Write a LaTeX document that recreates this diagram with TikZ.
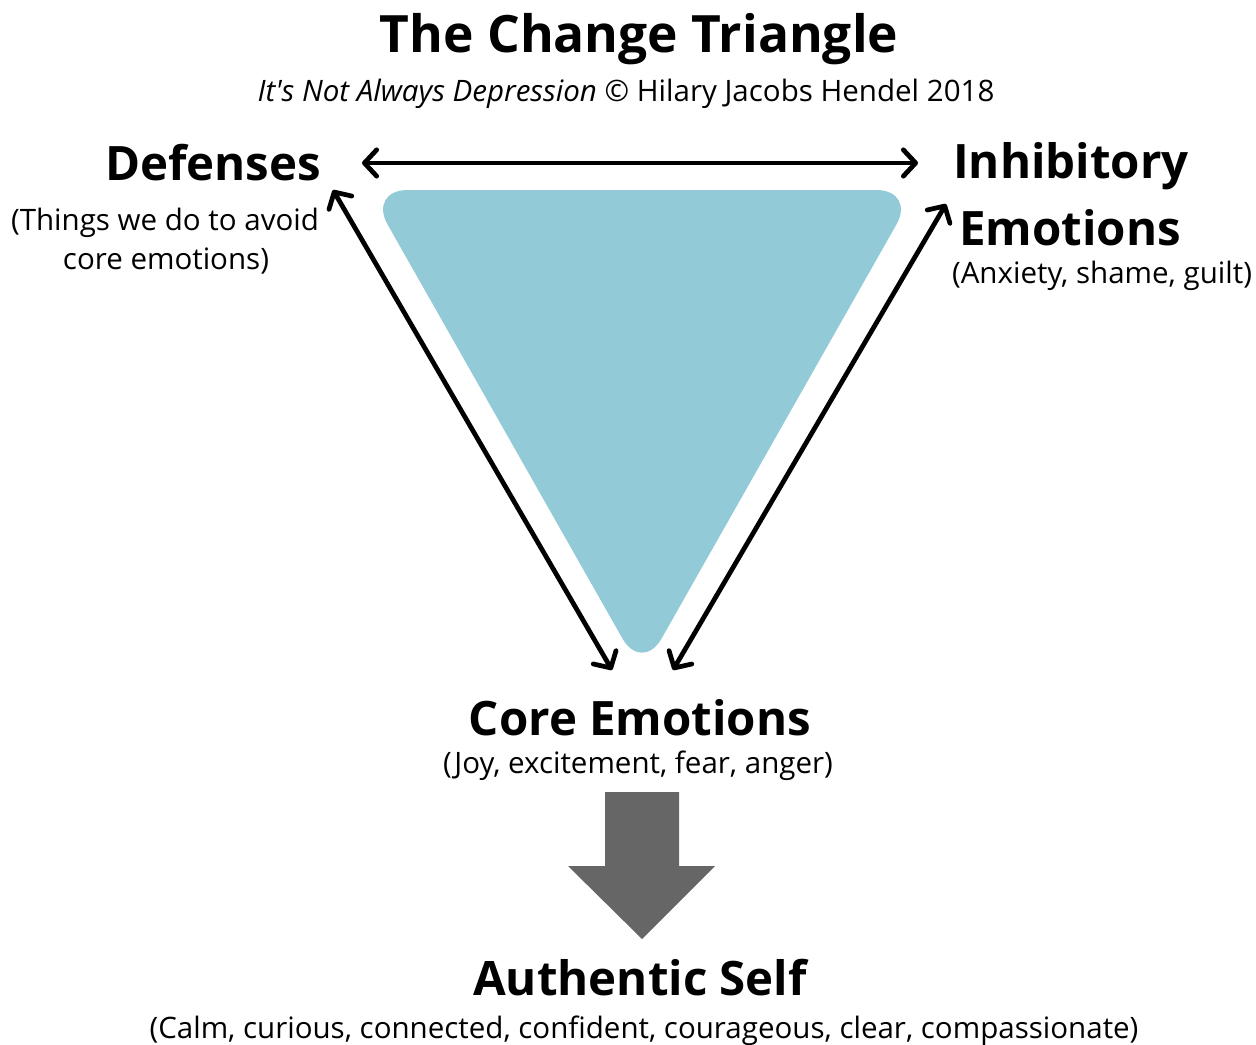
\documentclass[tikz,border=0pt]{standalone}
\usepackage{fontspec}
\setmainfont{Open Sans}
\usetikzlibrary{arrows.meta}

\definecolor{triblue}{RGB}{146,202,215}
\definecolor{arrowgray}{RGB}{102,102,102}

\begin{document}
\begin{tikzpicture}[
        x=0.02cm, y=-0.02cm,
        >={Straight Barb[length=7pt,width=15pt,round]},
        heading/.style={font=\bfseries\fontsize{27}{32}\selectfont, anchor=base, inner sep=0pt},
        note/.style={font=\fontsize{16.8}{20}\selectfont, anchor=base, inner sep=0pt},
        link/.style={<->, line width=2.7pt},
    ]
    \useasboundingbox (0,0) rectangle (1256,1044);

    % title lines
    \node[heading, font=\bfseries\fontsize{29.3}{35}\selectfont] (title) at (639,53) {The Change Triangle};
    \node[note] (subtitle) at (626,102)
        {\itshape It\textquotesingle s Not Always Depression\upshape\ © Hilary Jacobs Hendel 2018};

    % the triangle itself
    \fill[triblue, rounded corners=22.7pt] (368,190) -- (916,190) -- (642,673) -- cycle;

    % corners
    \node[heading] (defenses) at (213,180) {Defenses};
    \node[note] (defnoteA) at (165,230) {(Things we do to avoid};
    \node[note] (defnoteB) at (166,269) {core emotions)};

    \node[heading] (inhibitory) at (1071,178) {Inhibitory};
    \node[heading] (inhemotions) at (1070,245) {Emotions};
    \node[note] (inhnote) at (1102,283) {(Anxiety, shame, guilt)};

    \node[heading] (core) at (640,735) {Core Emotions};
    \node[note] (corenote) at (638,773) {(Joy, excitement, fear, anger)};

    \node[heading] (authentic) at (640,995) {Authentic Self};
    \node[note] (authnote) at (644,1038)
        {(Calm, curious, connected, confident, courageous, clear, compassionate)};

    % arrow ends
    \coordinate (defR) at (362,163);
    \coordinate (inhL) at (918,163);
    \coordinate (defB) at (333,190);
    \coordinate (inhB) at (946,204);
    \coordinate (coreL) at (612,670);
    \coordinate (coreR) at (673,670);

    \draw[link] (defR) -- (inhL);
    \draw[link] (defB) -- (coreL);
    \draw[link] (inhB) -- (coreR);

    % big arrow down to the self
    \fill[arrowgray] (605,792) -- (679,792) -- (679,866) -- (715,866)
        -- (642,939) -- (568,866) -- (605,866) -- cycle;

\end{tikzpicture}
\end{document}
